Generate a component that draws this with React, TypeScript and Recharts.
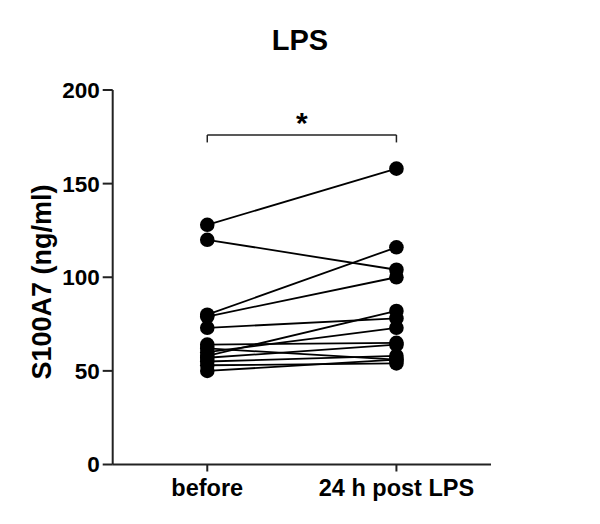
import { LineChart, Line, XAxis, YAxis, ReferenceLine } from 'recharts'

const categories = ['before', '24 h post LPS']
const categoryX = [1, 2]
const beforeValues = [128, 120, 80, 79, 73, 64, 62, 60, 58, 57, 55, 53, 50]
const afterValues = [158, 104, 116, 100, 78, 65, 56, 73, 82, 64, 58, 54, 56]
const yTicks = [0, 50, 100, 150, 200]

// significance bracket between the two groups
const bracketY = 176
const bracketDrop = 172

const font = '"Liberation Sans", Arial, sans-serif'
const ink = '#000'
const axisInk = '#222'

const subjects = beforeValues.map((b, i) => [
  { x: categoryX[0], y: b },
  { x: categoryX[1], y: afterValues[i] },
])

const YLabel = () => (
  <text
    x={42}
    y={282}
    transform="rotate(-90 42 282)"
    textAnchor="middle"
    dominantBaseline="central"
    fontFamily={font}
    fontWeight="bold"
    fontSize={27}
    fill={ink}
  >
    S100A7 (ng/ml)
  </text>
)

export default function App() {
  return (
    <div style={{ position: 'absolute', left: 0, top: 0, width: 600, height: 524, background: '#fff' }}>
      <div
        style={{
          position: 'absolute',
          top: 26,
          left: 0,
          width: 600,
          textAlign: 'center',
          fontFamily: font,
          fontWeight: 'bold',
          fontSize: 29,
          lineHeight: 1,
          color: ink,
        }}
      >
        LPS
      </div>
      <LineChart width={600} height={524} margin={{ top: 90, right: 109, left: 0, bottom: 0 }}>
        <XAxis
          type="number"
          dataKey="x"
          domain={[0.5, 2.5]}
          ticks={categoryX}
          tickFormatter={(v) => categories[categoryX.indexOf(v)] ?? ''}
          allowDuplicatedCategory={false}
          height={59.5}
          tickSize={7}
          tickMargin={8}
          stroke={axisInk}
          strokeWidth={2}
          tick={{ fill: ink, fontSize: 23.5, fontWeight: 'bold', fontFamily: font }}
        />
        <YAxis
          type="number"
          domain={[0, 200]}
          ticks={yTicks}
          width={112.7}
          tickSize={10}
          tickMargin={3}
          stroke={axisInk}
          strokeWidth={2}
          tick={{ fill: ink, fontSize: 22.5, fontWeight: 'bold', fontFamily: font }}
          label={{ content: () => <YLabel /> }}
        />
        <ReferenceLine
          segment={[
            { x: categoryX[0], y: bracketY },
            { x: categoryX[1], y: bracketY },
          ]}
          stroke={axisInk}
          strokeWidth={1.5}
          label={{ value: '*', position: 'top', offset: 2, fill: ink, fontSize: 30, fontWeight: 'bold', fontFamily: font }}
        />
        <ReferenceLine
          segment={[
            { x: categoryX[0], y: bracketY },
            { x: categoryX[0], y: bracketDrop },
          ]}
          stroke={axisInk}
          strokeWidth={1.5}
        />
        <ReferenceLine
          segment={[
            { x: categoryX[1], y: bracketY },
            { x: categoryX[1], y: bracketDrop },
          ]}
          stroke={axisInk}
          strokeWidth={1.5}
        />
        {subjects.map((d, i) => (
          <Line
            key={i}
            data={d}
            dataKey="y"
            stroke={ink}
            strokeWidth={1.8}
            dot={{ r: 7.3, fill: ink, stroke: ink, strokeWidth: 0 }}
            activeDot={false}
            isAnimationActive={false}
          />
        ))}
      </LineChart>
    </div>
  )
}
